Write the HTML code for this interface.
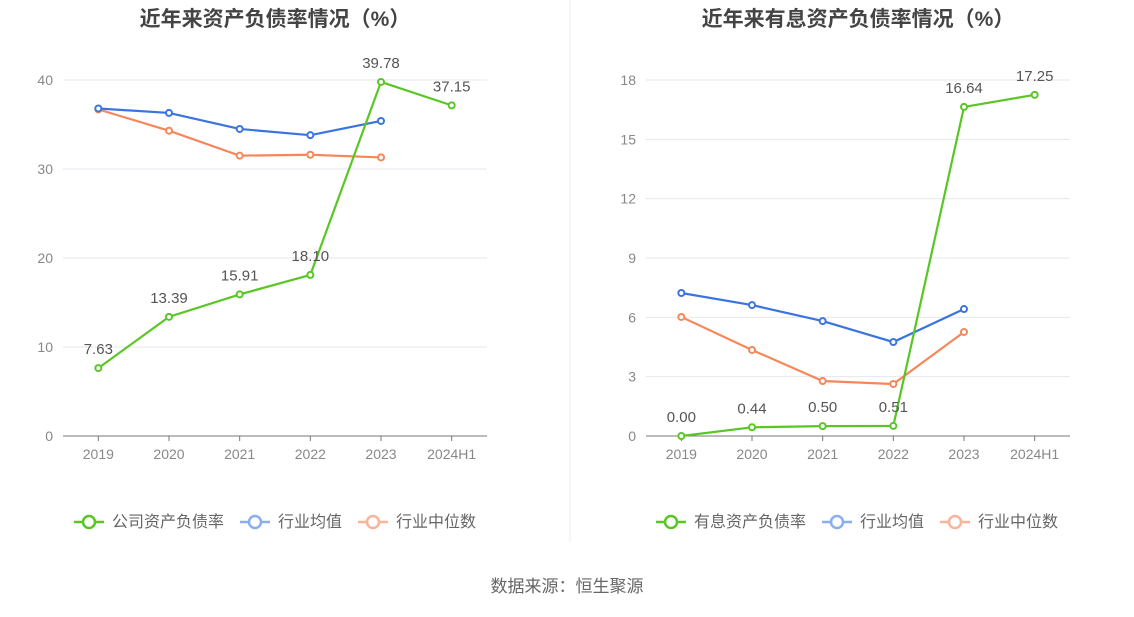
<!DOCTYPE html>
<html><head><meta charset="utf-8"><style>
body{margin:0;background:#fff;width:1134px;height:612px;overflow:hidden;font-family:"Liberation Sans","Noto Sans CJK SC",sans-serif}
svg text{font-family:"Liberation Sans","Noto Sans CJK SC",sans-serif}
</style></head><body>
<svg id="s" width="1134" height="612"></svg>
<script>
const categories=["2019","2020","2021","2022","2023","2024H1"];
const leftCompany=[7.63,13.39,15.91,18.10,39.78,37.15];
const leftAvg=[36.8,36.3,34.5,33.8,35.4];
const leftMedian=[36.7,34.3,31.5,31.6,31.3];
const leftTicks=[0,10,20,30,40];
const rightCompany=[0.00,0.44,0.50,0.51,16.64,17.25];
const rightAvg=[7.23,6.62,5.81,4.75,6.42];
const rightMedian=[6.02,4.35,2.78,2.63,5.26];
const rightTicks=[0,3,6,9,12,15,18];
const NS="http://www.w3.org/2000/svg";
const svg=document.getElementById('s');
function mk(tag,attrs,parent,txt){const e=document.createElementNS(NS,tag);for(const k in attrs)e.setAttribute(k,attrs[k]);if(txt!==undefined)e.textContent=txt;(parent||svg).appendChild(e);return e;}
function chart(cfg){
  const g=mk('g',{});
  
  
  const x0=cfg.left,x1=cfg.left+424,yb=436,yt=80,max=cfg.ticks[cfg.ticks.length-1];
  const step=(x1-x0)/categories.length;
  const X=i=>x0+step*(i+0.5);
  const Y=v=>yb-(v/max)*(yb-yt);
  const t=mk('text',{x:(x0+x1)/2,y:26,'text-anchor':'middle','font-size':21,'font-weight':'bold',fill:'#444'},g,cfg.title);
  
  cfg.ticks.forEach(v=>{
    if(v>0){const l=mk('line',{x1:x0,x2:x1,y1:Y(v),y2:Y(v),stroke:'#e4e7ee','stroke-width':1},g);}
    const tl=mk('text',{x:x0-10,y:Y(v)+5,'text-anchor':'end','font-size':14,fill:'#888'},g,String(v));
    
  });
  const ax=mk('line',{x1:x0,x2:x1,y1:yb,y2:yb,stroke:'#777','stroke-width':1},g);
  
  categories.forEach((c,i)=>{
    mk('line',{x1:X(i),x2:X(i),y1:yb,y2:yb+5,stroke:'#777'},g);
    const tl=mk('text',{x:X(i),y:459,'text-anchor':'middle','font-size':14,fill:'#888'},g,c);
    
  });
  function series(vals,color,name,labels){
    const p=mk('polyline',{points:vals.map((v,i)=>X(i)+','+Y(v)).join(' '),fill:'none',stroke:color,'stroke-width':2.2},g);
    
    vals.forEach((v,i)=>{
      const c=mk('circle',{cx:X(i),cy:Y(v),r:3,fill:'#fff',stroke:color,'stroke-width':2},g);
      
      if(labels){const l=mk('text',{x:X(i),y:Y(v)-14,'text-anchor':'middle','font-size':15,fill:'#555'},g,v.toFixed(2));
        }
    });
  }
  series(cfg.med,'#f5875a','median');
  series(cfg.avg,'#3a74e0','average');
  series(cfg.comp,'#5ac626','company',true);
  const legend=[[cfg.leg,'#5ac626'],['行业均值','#8aaef0'],['行业中位数','#f9b49a']];
  let lx=cfg.legX;
  legend.forEach(([txt,col],k)=>{
    const lg=mk('g',{},g);
    
    mk('line',{x1:lx,x2:lx+30,y1:522,y2:522,stroke:col,'stroke-width':2.5},lg);
    mk('circle',{cx:lx+15,cy:522,r:6,fill:'#fff',stroke:col,'stroke-width':2.5},lg);
    mk('text',{x:lx+38,y:527,'font-size':16,fill:'#666'},lg,txt);
    lx+=38+txt.length*16+16;
  });
}
chart({name:'left-chart',left:63,title:'近年来资产负债率情况（%）',ticks:leftTicks,comp:leftCompany,avg:leftAvg,med:leftMedian,leg:'公司资产负债率',legX:74});
chart({name:'right-chart',left:646,title:'近年来有息资产负债率情况（%）',ticks:rightTicks,comp:rightCompany,avg:rightAvg,med:rightMedian,leg:'有息资产负债率',legX:656});
const d=mk('line',{x1:570,x2:570,y1:0,y2:542,stroke:'#eee'});

const f=mk('text',{x:567,y:592,'text-anchor':'middle','font-size':17,fill:'#666'},svg,'数据来源：恒生聚源');

</script>
</body></html>
